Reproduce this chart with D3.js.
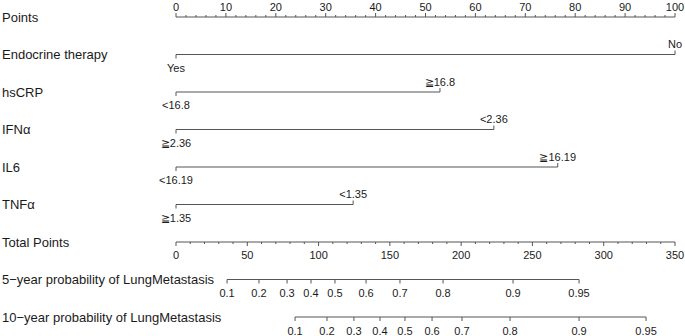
<!DOCTYPE html>
<html>
<head>
<meta charset="utf-8">
<script src="https://cdn.jsdelivr.net/npm/d3@7"></script>
<style>
  html, body { margin: 0; padding: 0; background: #fff; }
  svg { display: block; }
  text { font-family: "Liberation Sans", Arial, Helvetica, sans-serif; fill: #1a1a1a; }
</style>
</head>
<body>
<svg id="chart" width="685" height="336"></svg>
<script>
// ---- data ----
const pointTicks = [0, 10, 20, 30, 40, 50, 60, 70, 80, 90, 100];
const totalTicks = [0, 50, 100, 150, 200, 250, 300, 350];
const varNames = ["Endocrine therapy", "hsCRP", "IFNα", "IL6", "TNFα"];
const lowLabels = ["Yes", "<16.8", "≧2.36", "<16.19", "≧1.35"];
const highLabels = ["No", "≧16.8", "<2.36", "≧16.19", "<1.35"];
const highPoints = [100, 52.9, 63.7, 76.5, 35.5];
const probLabels = ["0.1", "0.2", "0.3", "0.4", "0.5", "0.6", "0.7", "0.8", "0.9", "0.95"];
const prob5Points = [35.8, 58.2, 77.9, 94.7, 111.5, 133.3, 157.1, 187.3, 236.4, 282.7];
const prob10Points = [83.5, 105.9, 124.8, 143.1, 160.6, 179.6, 200.6, 234.3, 282.7, 329.7];

// ---- layout ----
const svg = d3.select("#chart");
const x0 = 176, x1 = 675;
const xPts = d3.scaleLinear().domain([0, 100]).range([x0, x1]);
const xTot = d3.scaleLinear().domain([0, 350]).range([x0, x1]);
const rowY = i => 17 + i * 37.5;
const lineCol = "#555";
const labelSize = 13, tickSize = 11;

function leftLabel(txt, y) {
  svg.append("text").attr("x", 2).attr("y", y + 4.5)
    .attr("font-size", labelSize).text(txt);
}

// Points axis
{
  const y = rowY(0);
  leftLabel("Points", y);
  svg.append("line").attr("x1", xPts(0)).attr("x2", xPts(100)).attr("y1", y).attr("y2", y)
    .attr("stroke", lineCol);
  const minor = d3.range(0, 101, 2);
  svg.selectAll(".ptick").data(minor).join("line")
    .attr("x1", d => xPts(d)).attr("x2", d => xPts(d))
    .attr("y1", y).attr("y2", d => d % 10 === 0 ? y - 4 : y - 2)
    .attr("stroke", lineCol);
  svg.selectAll(".plab").data(pointTicks).join("text")
    .attr("x", d => xPts(d)).attr("y", y - 6.5).attr("text-anchor", "middle")
    .attr("font-size", tickSize).text(d => d);
}

// Variables
varNames.forEach((name, i) => {
  const y = rowY(i + 1);
  leftLabel(name, y);
  const xa = xPts(0), xb = xPts(highPoints[i]);
  svg.append("line").attr("x1", xa).attr("x2", xb).attr("y1", y).attr("y2", y).attr("stroke", lineCol);
  svg.append("line").attr("x1", xa).attr("x2", xa).attr("y1", y).attr("y2", y + 4).attr("stroke", lineCol);
  svg.append("line").attr("x1", xb).attr("x2", xb).attr("y1", y).attr("y2", y - 4).attr("stroke", lineCol);
  svg.append("text").attr("x", xa).attr("y", y + 17).attr("text-anchor", "middle")
    .attr("font-size", tickSize).text(lowLabels[i]);
  svg.append("text").attr("x", xb).attr("y", y - 6.5).attr("text-anchor", "middle")
    .attr("font-size", tickSize).text(highLabels[i]);
});

// Total points
{
  const y = rowY(6);
  leftLabel("Total Points", y);
  svg.append("line").attr("x1", xTot(0)).attr("x2", xTot(350)).attr("y1", y).attr("y2", y).attr("stroke", lineCol);
  const minor = d3.range(0, 351, 10);
  svg.selectAll(".ttick").data(minor).join("line")
    .attr("x1", d => xTot(d)).attr("x2", d => xTot(d))
    .attr("y1", y).attr("y2", d => d % 50 === 0 ? y + 4 : y + 2)
    .attr("stroke", lineCol);
  svg.selectAll(".tlab").data(totalTicks).join("text")
    .attr("x", d => xTot(d)).attr("y", y + 17).attr("text-anchor", "middle")
    .attr("font-size", tickSize).text(d => d);
}

// Probability axes
function probAxis(title, pts, row) {
  const y = rowY(row);
  leftLabel(title, y);
  const g = svg.append("g");
  g.append("line").attr("x1", xTot(d3.min(pts))).attr("x2", xTot(d3.max(pts)))
    .attr("y1", y).attr("y2", y).attr("stroke", lineCol);
  g.selectAll("line.tk").data(pts).join("line").attr("class", "tk")
    .attr("x1", d => xTot(d)).attr("x2", d => xTot(d))
    .attr("y1", y).attr("y2", y + 4).attr("stroke", lineCol);
  g.selectAll("text").data(pts).join("text")
    .attr("x", d => xTot(d)).attr("y", y + 17.5).attr("text-anchor", "middle")
    .attr("font-size", tickSize).text((d, i) => probLabels[i]);
}
probAxis("5−year probability of LungMetastasis", prob5Points, 7);
probAxis("10−year probability of LungMetastasis", prob10Points, 8);
</script>
</body>
</html>
